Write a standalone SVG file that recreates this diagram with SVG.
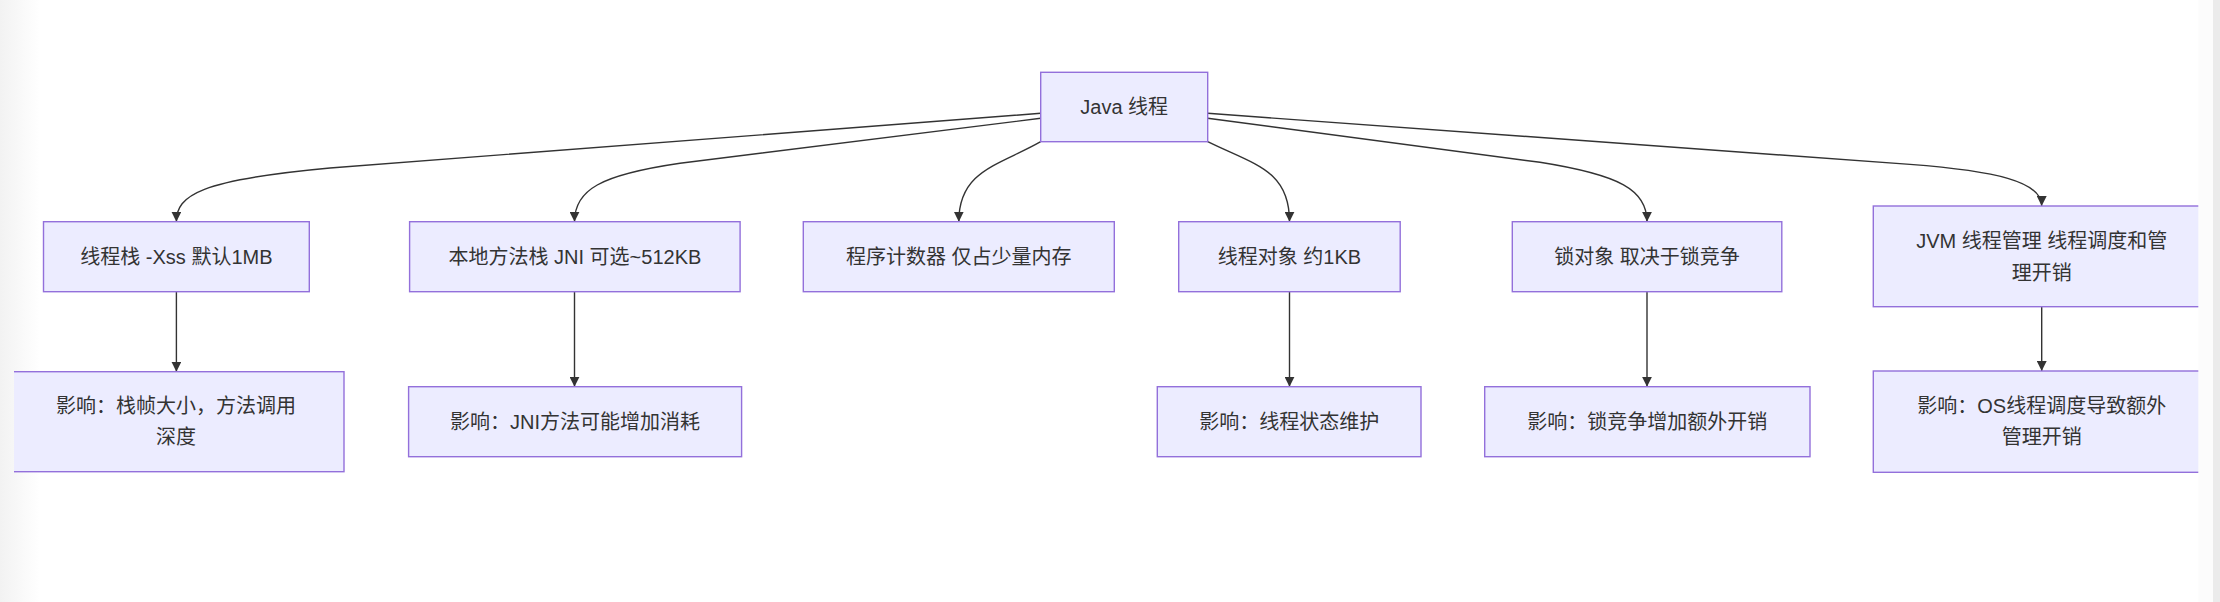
<svg xmlns="http://www.w3.org/2000/svg" width="2220" height="602" viewBox="0 0 2220 602">
<defs>
<style>
.node rect{fill:#ECECFF;stroke:#9370DB;stroke-width:1.4}
.node text{font-family:"Liberation Sans","Noto Sans CJK SC",sans-serif;font-size:20px;fill:#333;text-anchor:middle;dominant-baseline:central}
.edge{fill:none;stroke:#333;stroke-width:1.4;marker-end:url(#arrow)}
</style>
<marker id="arrow" viewBox="0 0 10 10" refX="10" refY="5" markerWidth="10" markerHeight="10" markerUnits="userSpaceOnUse" orient="auto">
<path d="M0,0 L10,5 L0,10 z" fill="#333"/>
</marker>
<linearGradient id="lg" x1="0" y1="0" x2="1" y2="0">
<stop offset="0" stop-color="#f2f2f2"/>
<stop offset="1" stop-color="#ffffff"/>
</linearGradient>
<clipPath id="view"><rect x="14" y="0" width="2184.3" height="602"/></clipPath>
</defs>
<rect x="0" y="0" width="2220" height="602" fill="#ffffff"/>
<rect x="0" y="0" width="40" height="602" fill="url(#lg)"/>
<rect x="2198.3" y="0" width="15" height="602" fill="#fcfcfc"/>
<rect x="2213" y="0" width="7" height="602" fill="#ebebeb"/>
<g clip-path="url(#view)">
<g id="edges">
<path class="edge" d="M1040.7,113.3 L330,168 C200,180 176.4,195 176.4,221.7"/>
<path class="edge" d="M1040.7,118.3 L680,163.3 C600,175 574.5,190 574.5,221.7"/>
<path class="edge" d="M1040.7,141.7 C1000,165 958.8,170 958.8,221.7"/>
<path class="edge" d="M1207.7,141.7 C1255,165 1289.5,170 1289.5,221.7"/>
<path class="edge" d="M1207.7,118.3 L1540,162.3 C1620,175 1647,190 1647,221.7"/>
<path class="edge" d="M1207.7,113.3 L1910,164.4 C1995,171 2041.7,181 2041.7,206"/>
<path class="edge" d="M176.4,291.7 L176.4,371.7"/>
<path class="edge" d="M574.5,291.7 L574.5,386.7"/>
<path class="edge" d="M1289.5,291.7 L1289.5,386.7"/>
<path class="edge" d="M1647,291.7 L1647,386.7"/>
<path class="edge" d="M2041.7,306.7 L2041.7,371"/>
</g>
<g id="n-java" class="node"><rect x="1040.7" y="72.3" width="167" height="69.4"/><text x="1124.2" y="107">Java 线程</text></g>
<g id="n-stack" class="node"><rect x="43.5" y="221.7" width="265.8" height="70"/><text x="176.4" y="256.7">线程栈 -Xss 默认1MB</text></g>
<g id="n-native" class="node"><rect x="409.6" y="221.7" width="330.5" height="70"/><text x="574.9" y="256.7">本地方法栈 JNI 可选~512KB</text></g>
<g id="n-pc" class="node"><rect x="803.3" y="221.7" width="311" height="70"/><text x="958.8" y="256.7">程序计数器 仅占少量内存</text></g>
<g id="n-obj" class="node"><rect x="1178.7" y="221.7" width="221.5" height="70"/><text x="1289.5" y="256.7">线程对象 约1KB</text></g>
<g id="n-lock" class="node"><rect x="1512.3" y="221.7" width="269.5" height="70"/><text x="1647" y="256.7">锁对象 取决于锁竞争</text></g>
<g id="n-jvm" class="node"><rect x="1873.3" y="206" width="336.8" height="100.7"/><text x="2041.7" y="240.5">JVM 线程管理 线程调度和管</text><text x="2041.7" y="273">理开销</text></g>
<g id="n-i1" class="node"><rect x="8" y="371.7" width="336" height="100"/><text x="176" y="406.2">影响：栈帧大小，方法调用</text><text x="176" y="437.2">深度</text></g>
<g id="n-i2" class="node"><rect x="408.6" y="386.7" width="333" height="70"/><text x="575.1" y="421.7">影响：JNI方法可能增加消耗</text></g>
<g id="n-i4" class="node"><rect x="1157.3" y="386.7" width="263.7" height="70"/><text x="1289.2" y="421.7">影响：线程状态维护</text></g>
<g id="n-i5" class="node"><rect x="1484.7" y="386.7" width="325.3" height="70"/><text x="1647.3" y="421.7">影响：锁竞争增加额外开销</text></g>
<g id="n-i6" class="node"><rect x="1873.3" y="371" width="336.8" height="101.3"/><text x="2041.7" y="406.2">影响：OS线程调度导致额外</text><text x="2041.7" y="437.2">管理开销</text></g>
</g>
</svg>
